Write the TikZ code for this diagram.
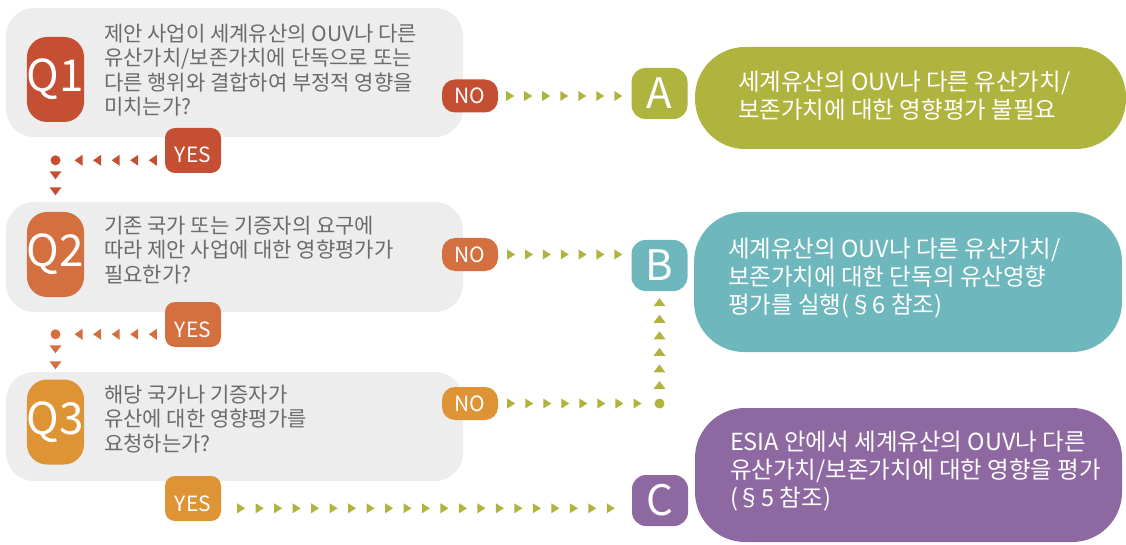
\documentclass[tikz,border=0pt]{standalone}
\usepackage{fontspec}
\setmainfont{Noto Sans CJK KR}
\usetikzlibrary{calc}
\usetikzlibrary{positioning}

\definecolor{qred}{HTML}{C44F33}
\definecolor{qorange}{HTML}{D4703F}
\definecolor{qamber}{HTML}{DE9434}
\definecolor{aolive}{HTML}{AFB43E}
\definecolor{bteal}{HTML}{6EB8BD}
\definecolor{cpurple}{HTML}{8E69A1}
\definecolor{qgrey}{HTML}{EDEDED}
\definecolor{qtextgrey}{HTML}{6B6B6B}

\begin{document}
\begin{tikzpicture}[x=1pt,y=-1pt]
  \tikzset{myqbox/.style={fill=qgrey, rounded corners=28pt, minimum width=457pt, inner sep=0pt}};
  \tikzset{myqtag/.style={rounded corners=20pt, minimum width=57pt, minimum height=85pt, inner sep=0pt, text=white, font=\fontsize{44}{44}\selectfont}};
  \tikzset{myqtext/.style={anchor=west, align=left, inner sep=0pt, text=qtextgrey, font=\fontsize{21}{24.5}\selectfont}};
  \tikzset{mynotag/.style={rounded corners=13pt, minimum width=56pt, minimum height=33pt, inner sep=0pt, text=white, font=\fontsize{21}{21}\selectfont}};
  \tikzset{myyestag/.style={rounded corners=10pt, minimum width=56pt, text height=35pt, text depth=10pt, inner sep=0pt, text=white, font=\fontsize{21}{21}\selectfont}};
  \tikzset{mylettertag/.style={rounded corners=14pt, minimum width=56pt, minimum height=51pt, inner sep=0pt, text=white, font=\fontsize{42}{42}\selectfont}};
  \tikzset{mypill/.style={rounded corners=50pt, inner sep=0pt}};
  \tikzset{mypilltext/.style={anchor=west, align=left, inner sep=0pt, text=white, font=\fontsize{23.5}{28}\selectfont}};
  \tikzset{tri right/.pic={\fill (-4,-5) -- (4,0) -- (-4,5) -- cycle;}};
  \tikzset{tri left/.pic={\fill (4,-5.5) -- (-4,0) -- (4,5.5) -- cycle;}};
  \tikzset{tri down/.pic={\fill (-6,-4) -- (6,-4) -- (0,4) -- cycle;}};
  \tikzset{tri up/.pic={\fill (-6,4) -- (6,4) -- (0,-4) -- cycle;}};
  \useasboundingbox (0,0) rectangle (1126,545);

  % questions
  \node[myqbox, minimum height=129pt] (q1box) at (234.5,72.5) {};
  \node[myqbox, minimum height=110pt] (q2box) at (234.5,257) {};
  \node[myqbox, minimum height=109pt] (q3box) at (234.5,426.5) {};
  \node[myqtag, fill=qred] (q1tag) at (55.5,79.5) {Q1};
  \node[myqtag, fill=qorange] (q2tag) at (55.5,254.5) {Q2};
  \node[myqtag, fill=qamber] (q3tag) at (55.5,422) {Q3};
  \node[myqtext] (q1text) at (104,70) {제안 사업이 세계유산의 OUV나 다른\\유산가치/보존가치에 단독으로 또는\\다른 행위와 결합하여 부정적 영향을\\미치는가?};
  \node[myqtext] (q2text) at (104,250) {기존 국가 또는 기증자의 요구에\\따라 제안 사업에 대한 영향평가가\\필요한가?};
  \node[myqtext] (q3text) at (104,419) {해당 국가나 기증자가\\유산에 대한 영향평가를\\요청하는가?};

  \node[mynotag, fill=qred] (q1no) at (470,96) {NO};
  \node[mynotag, fill=qorange] (q2no) at (470,254.5) {NO};
  \node[mynotag, fill=qamber] (q3no) at (470,403.5) {NO};
  \node[myyestag, fill=qred] (q1yes) at (193,150.5) {YES};
  \node[myyestag, fill=qorange] (q2yes) at (193,324.5) {YES};
  \node[myyestag, fill=qamber] (q3yes) at (193,498.5) {YES};

  % answers
  \node[mylettertag, fill=aolive] (atag) at (659.5,93.5) {A};
  \node[mylettertag, fill=bteal] (btag) at (659.5,265.5) {B};
  \node[mylettertag, fill=cpurple] (ctag) at (660,500.5) {C};
  \node[mypill, fill=aolive, minimum width=431pt, minimum height=102pt] (apill) at (910.5,98) {};
  \node[mypill, fill=bteal, minimum width=428pt, minimum height=140pt] (bpill) at (908,282) {};
  \node[mypill, fill=cpurple, minimum width=427pt, minimum height=134pt] (cpill) at (908.5,475) {};
  \node[mypilltext] (atext) at ([xshift=43pt, yshift=2pt]apill.west) {세계유산의 OUV나 다른 유산가치/\\보존가치에 대한 영향평가 불필요};
  \node[mypilltext] (btext) at ([xshift=34pt, yshift=4pt]bpill.west) {세계유산의 OUV나 다른 유산가치/\\보존가치에 대한 단독의 유산영향\\평가를 실행(§6 참조)};
  \node[mypilltext] (ctext) at ([xshift=35pt, yshift=4pt]cpill.west) {ESIA 안에서 세계유산의 OUV나 다른\\유산가치/보존가치에 대한 영향을 평가\\(§5 참조)};

  % YES chains down the left
  \coordinate (d1) at (q1tag |- q1yes.mid west);
  \coordinate (d2) at (q2tag |- q2yes.mid west);
  \foreach \i in {0,...,4} \pic[qred] at ($([xshift=-12pt]q1yes.mid west)!\i/4!($(d1)+(23,0)$)$) {tri left};
  \fill[qred] (d1) circle[radius=5];
  \pic[qred] at ($(d1)+(0,15)$) {tri down};
  \pic[qred] at ($(d1)+(0,31)$) {tri down};
  \foreach \i in {0,...,4} \pic[qorange] at ($([xshift=-12pt]q2yes.mid west)!\i/4!($(d2)+(23,0)$)$) {tri left};
  \fill[qorange] (d2) circle[radius=5];
  \pic[qorange] at ($(d2)+(0,15)$) {tri down};
  \pic[qorange] at ($(d2)+(0,31)$) {tri down};

  % NO chains to the answers
  \coordinate (n1a) at ([xshift=12pt]q1no.east);
  \coordinate (n1b) at ($(atag.west |- q1no.east)+(-13,0)$);
  \foreach \i in {0,...,6} \pic[aolive] at ($(n1a)!\i/6!(n1b)$) {tri right};
  \coordinate (n2a) at ([xshift=13pt]q2no.east);
  \coordinate (n2b) at ($(btag.west |- q2no.east)+(-13,0)$);
  \foreach \i in {0,...,6} \pic[aolive] at ($(n2a)!\i/6!(n2b)$) {tri right};
  \coordinate (n3a) at ([xshift=13pt]q3no.east);
  \coordinate (n3c) at (btag |- q3no.east);
  \foreach \i in {0,...,7} \pic[aolive] at ($(n3a)!\i/7!($(n3c)+(-22,0)$)$) {tri right};
  \fill[aolive] (n3c) circle[radius=5];
  \foreach \i in {0,...,5} \pic[aolive] at ($($(n3c)+(0,-18.5)$)!\i/5!([yshift=-11pt]btag.south)$) {tri up};

  % Q3 YES to C
  \coordinate (y3a) at ([xshift=20pt]q3yes.mid east);
  \coordinate (y3b) at ($(ctag.west |- q3yes.mid east)+(-21,0)$);
  \foreach \i in {0,...,20} \pic[aolive] at ($(y3a)!\i/20!(y3b)$) {tri right};
\end{tikzpicture}
\end{document}
